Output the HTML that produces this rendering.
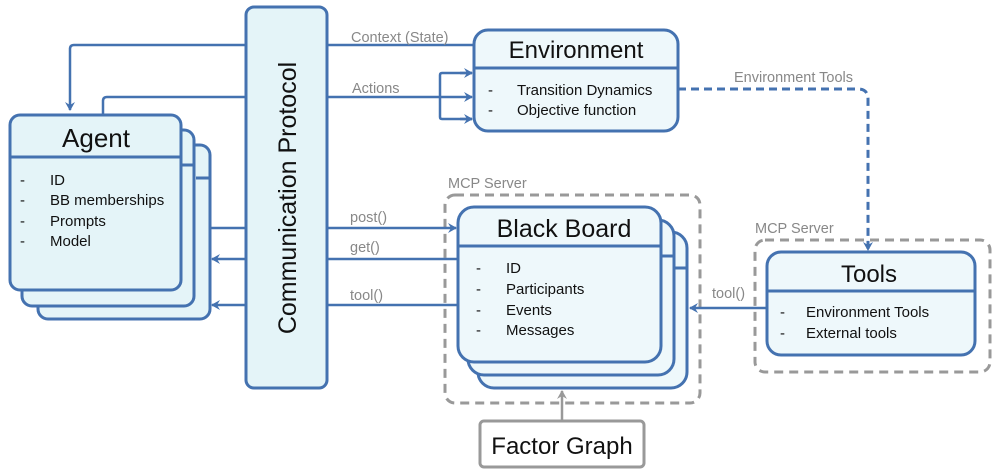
<!DOCTYPE html>
<html><head><meta charset="utf-8"><style>
html,body{margin:0;padding:0;background:#fff;}
svg{display:block;font-family:"Liberation Sans",sans-serif;}
</style></head><body>
<svg width="996" height="473" viewBox="0 0 996 473" xmlns="http://www.w3.org/2000/svg">
<defs>
<marker id="a" markerWidth="10" markerHeight="10" refX="8" refY="5" orient="auto" markerUnits="userSpaceOnUse"><path d="M0,0 L9,5 L0,10 L3,5 Z" fill="#4472b0"/></marker>
<marker id="g" markerWidth="10" markerHeight="10" refX="8" refY="5" orient="auto" markerUnits="userSpaceOnUse"><path d="M0,0 L9,5 L0,10 L3,5 Z" fill="#999"/></marker>
</defs>
<g stroke="#4472b0" stroke-width="3" fill="#e4f4f8">
<rect x="38" y="145" width="172" height="174" rx="10"/>
<line x1="196" y1="178" x2="210" y2="178"/>
<rect x="22" y="130" width="172" height="176" rx="10"/>
<line x1="182" y1="165" x2="194" y2="165"/>
<rect x="10" y="115" width="171" height="175" rx="10"/>
<line x1="10" y1="157" x2="181" y2="157"/>
<rect x="246" y="7" width="81" height="381" rx="8"/>
<rect x="474" y="30" width="204" height="101" rx="14" fill="#eef8fb"/>
<line x1="474" y1="68" x2="678" y2="68"/>
<rect x="478" y="232" width="209" height="156" rx="16" fill="#eef8fb"/>
<line x1="674" y1="268" x2="687" y2="268"/>
<rect x="468" y="220" width="206" height="155" rx="16" fill="#eef8fb"/>
<line x1="662" y1="256" x2="674" y2="256"/>
<rect x="458" y="207" width="203" height="155" rx="16" fill="#eef8fb"/>
<line x1="458" y1="246" x2="661" y2="246"/>
<rect x="767" y="252" width="208" height="103" rx="14" fill="#eef8fb"/>
<line x1="767" y1="291" x2="975" y2="291"/>
</g>
<g stroke="#999" stroke-width="3" fill="none" stroke-dasharray="9,6">
<rect x="445" y="195" width="255" height="208" rx="10"/>
<rect x="755" y="240" width="235" height="132" rx="10"/>
</g>
<g stroke="#4472b0" stroke-width="2.5" fill="none">
<path d="M246,45 H74 Q70,45 70,49 V110" marker-end="url(#a)"/>
<path d="M246,97 H107 Q103,97 103,101 V115"/>
<line x1="246" y1="228" x2="210" y2="228"/>
<line x1="246" y1="259" x2="212" y2="259" marker-end="url(#a)"/>
<line x1="246" y1="305" x2="212" y2="305" marker-end="url(#a)"/>
<line x1="327" y1="45" x2="474" y2="45"/>
<line x1="327" y1="97" x2="472" y2="97" marker-end="url(#a)"/>
<path d="M472,73 H442 Q440,73 440,75 V117 Q440,119 442,119 H472" />
<line x1="460" y1="73" x2="472" y2="73" marker-end="url(#a)"/>
<line x1="460" y1="119" x2="472" y2="119" marker-end="url(#a)"/>
<line x1="327" y1="228" x2="456" y2="228" marker-end="url(#a)"/>
<line x1="327" y1="259" x2="458" y2="259"/>
<line x1="327" y1="305" x2="458" y2="305"/>
<line x1="767" y1="308" x2="690" y2="308" marker-end="url(#a)"/>
<path d="M678,89 H858 Q868,89 868,99 V250" stroke-width="3" stroke-dasharray="8,5" marker-end="url(#a)"/>
</g>
<line x1="562" y1="421" x2="562" y2="391" stroke="#999" stroke-width="2.5" marker-end="url(#g)"/>
<rect x="480" y="421" width="164" height="46" rx="4" fill="#fff" stroke="#999" stroke-width="3"/>
<g fill="#111">
<text x="96" y="147" font-size="26" text-anchor="middle">Agent</text>
<g font-size="15">
<text x="20" y="185">-</text><text x="50" y="185">ID</text>
<text x="20" y="205">-</text><text x="50" y="205">BB memberships</text>
<text x="20" y="226">-</text><text x="50" y="226">Prompts</text>
<text x="20" y="246">-</text><text x="50" y="246">Model</text>
</g>
<text transform="translate(296,198) rotate(-90)" font-size="25" text-anchor="middle">Communication Protocol</text>
<text x="576" y="58" font-size="24" text-anchor="middle">Environment</text>
<g font-size="15">
<text x="488" y="95">-</text><text x="517" y="95">Transition Dynamics</text>
<text x="488" y="115">-</text><text x="517" y="115">Objective function</text>
</g>
<text x="564" y="237" font-size="25" text-anchor="middle">Black Board</text>
<g font-size="15">
<text x="476" y="273">-</text><text x="506" y="273">ID</text>
<text x="476" y="294">-</text><text x="506" y="294">Participants</text>
<text x="476" y="315">-</text><text x="506" y="315">Events</text>
<text x="476" y="335">-</text><text x="506" y="335">Messages</text>
</g>
<text x="869" y="282" font-size="24" text-anchor="middle">Tools</text>
<g font-size="15">
<text x="780" y="317">-</text><text x="806" y="317">Environment Tools</text>
<text x="780" y="338">-</text><text x="806" y="338">External tools</text>
</g>
<text x="562" y="454" font-size="24" text-anchor="middle">Factor Graph</text>
</g>
<g fill="#888" font-size="14.5">
<text x="351" y="42">Context (State)</text>
<text x="352" y="93">Actions</text>
<text x="734" y="82">Environment Tools</text>
<text x="448" y="188">MCP Server</text>
<text x="755" y="233">MCP Server</text>
<text x="350" y="222">post()</text>
<text x="350" y="252">get()</text>
<text x="350" y="300">tool()</text>
<text x="712" y="298">tool()</text>
</g>
</svg>
</body></html>
